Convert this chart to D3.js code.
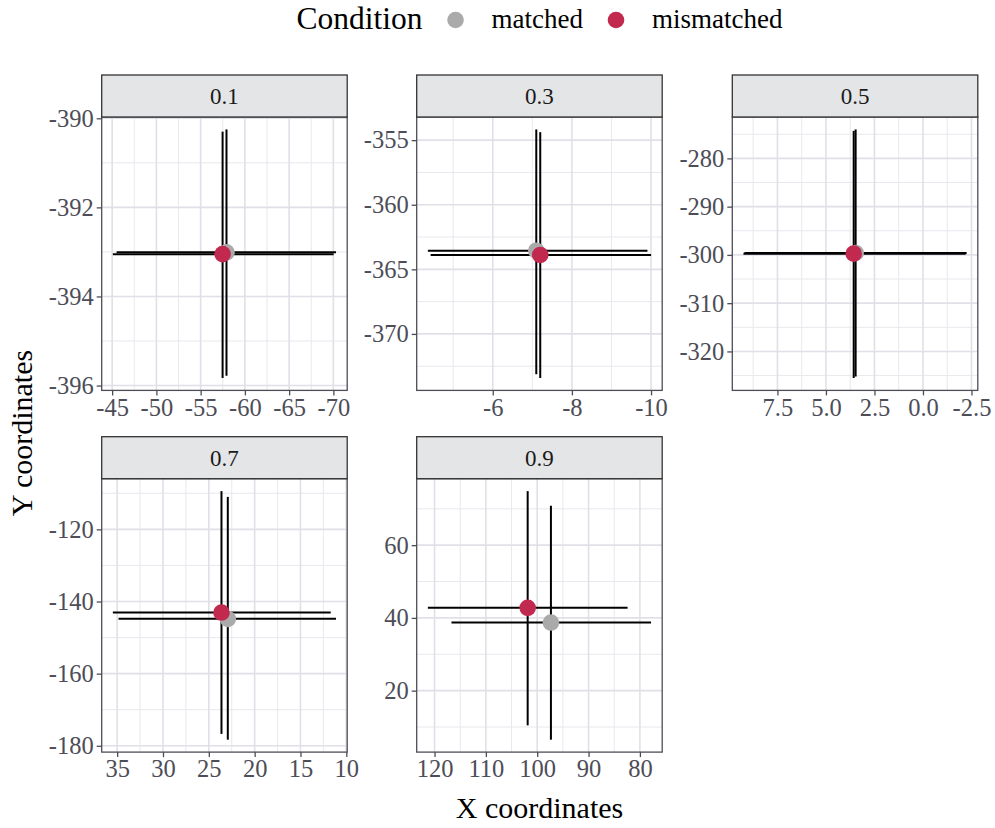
<!DOCTYPE html>
<html>
<head>
<meta charset="utf-8">
<script src="https://cdn.jsdelivr.net/npm/d3@7"></script>
<style>
  body { margin: 0; background: #fff; }
  svg { display: block; }
</style>
</head>
<body>
<svg id="chart" width="995" height="828"></svg>
<script>
// facets (noise level)
const conditions = ["0.1", "0.3", "0.5", "0.7", "0.9"]

// matched: centre point and error bar ends
const matchedX    = [-57.92, -7.10, 3.47, 22.93, 97.33]
const matchedY    = [-393.01, -363.56, -299.60, -144.80, 38.72]
const matchedXLo  = [-45.50, -4.36, 9.20, 34.85, 116.70]
const matchedXHi  = [-70.30, -9.91, -2.25, 11.12, 77.83]
const matchedYLo  = [-395.78, -373.12, -325.20, -178.30, 6.52]
const matchedYHi  = [-390.25, -354.17, -274.00, -111.00, 70.84]

// mismatched
const mismatchedX   = [-57.48, -7.20, 3.57, 23.62, 101.86]
const mismatchedY   = [-393.05, -363.89, -299.74, -143.06, 42.77]
const mismatchedXLo = [-45.08, -4.43, 9.25, 35.47, 121.30]
const mismatchedXHi = [-70.03, -10.00, -2.20, 11.70, 82.40]
const mismatchedYLo = [-395.83, -373.41, -325.50, -176.70, 10.45]
const mismatchedYHi = [-390.30, -354.38, -274.30, -109.40, 74.86]

// tick labels per facet
const xTickLabels = [
  ["-45", "-50", "-55", "-60", "-65", "-70"],
  ["-6", "-8", "-10"],
  ["7.5", "5.0", "2.5", "0.0", "-2.5"],
  ["35", "30", "25", "20", "15", "10"],
  ["120", "110", "100", "90", "80"]
]
const yTickLabels = [
  ["-390", "-392", "-394", "-396"],
  ["-355", "-360", "-365", "-370"],
  ["-280", "-290", "-300", "-310", "-320"],
  ["-120", "-140", "-160", "-180"],
  ["20", "40", "60"]
]

const groups = ["matched", "mismatched"]
const groupColors = ["#aaaaaa", "#c2294f"]

// layout
const FONT = "'Liberation Serif', 'Times New Roman', serif"
const COL_X = [101.7, 416.7, 732.3]
const ROW_Y = [75, 436.7]
const PANEL_W = 245.5
const STRIP_H = 42
const PANEL_H = 273.4
const AXIS_COLOR = "#4d4d57"
const GRID_MAJOR = "#e0e0e8"
const GRID_MINOR = "#e8e8ee"

const svg = d3.select("#chart")

function minors(ticks) {
  const t = ticks.slice().sort((a, b) => a - b)
  const step = t[1] - t[0]
  const out = []
  for (let v = t[0] - step / 2; v <= t[t.length - 1] + step; v += step) out.push(v)
  return out
}

conditions.forEach((cond, i) => {
  const col = i % 3, row = Math.floor(i / 3)
  const x0 = COL_X[col], top = ROW_Y[row], y0 = top + STRIP_H

  const xs = [matchedXLo[i], matchedXHi[i], mismatchedXLo[i], mismatchedXHi[i]]
  const ys = [matchedYLo[i], matchedYHi[i], mismatchedYLo[i], mismatchedYHi[i]]
  const [xmin, xmax] = d3.extent(xs), [ymin, ymax] = d3.extent(ys)
  const xpad = (xmax - xmin) * 0.05, ypad = (ymax - ymin) * 0.05

  // x is reversed
  const x = d3.scaleLinear().domain([xmax + xpad, xmin - xpad]).range([x0, x0 + PANEL_W])
  const y = d3.scaleLinear().domain([ymin - ypad, ymax + ypad]).range([y0 + PANEL_H, y0])

  const xt = xTickLabels[i].map(Number), yt = yTickLabels[i].map(Number)
  const inX = v => v >= xmin - xpad && v <= xmax + xpad
  const inY = v => v >= ymin - ypad && v <= ymax + ypad

  const g = svg.append("g")

  // grid
  const grid = g.append("g")
  minors(xt).filter(inX).forEach(v => grid.append("line")
    .attr("x1", x(v)).attr("x2", x(v)).attr("y1", y0).attr("y2", y0 + PANEL_H)
    .attr("stroke", GRID_MINOR).attr("stroke-width", 1))
  minors(yt).filter(inY).forEach(v => grid.append("line")
    .attr("x1", x0).attr("x2", x0 + PANEL_W).attr("y1", y(v)).attr("y2", y(v))
    .attr("stroke", GRID_MINOR).attr("stroke-width", 1))
  xt.forEach(v => grid.append("line")
    .attr("x1", x(v)).attr("x2", x(v)).attr("y1", y0).attr("y2", y0 + PANEL_H)
    .attr("stroke", GRID_MAJOR).attr("stroke-width", 1.6))
  yt.forEach(v => grid.append("line")
    .attr("x1", x0).attr("x2", x0 + PANEL_W).attr("y1", y(v)).attr("y2", y(v))
    .attr("stroke", GRID_MAJOR).attr("stroke-width", 1.6))

  // error bars
  const bars = [
    {cx: matchedX[i], cy: matchedY[i], xlo: matchedXLo[i], xhi: matchedXHi[i], ylo: matchedYLo[i], yhi: matchedYHi[i]},
    {cx: mismatchedX[i], cy: mismatchedY[i], xlo: mismatchedXLo[i], xhi: mismatchedXHi[i], ylo: mismatchedYLo[i], yhi: mismatchedYHi[i]}
  ]
  bars.forEach(b => {
    g.append("line").attr("x1", x(b.xlo)).attr("x2", x(b.xhi)).attr("y1", y(b.cy)).attr("y2", y(b.cy))
      .attr("stroke", "#000").attr("stroke-width", 2)
    g.append("line").attr("x1", x(b.cx)).attr("x2", x(b.cx)).attr("y1", y(b.ylo)).attr("y2", y(b.yhi))
      .attr("stroke", "#000").attr("stroke-width", 2)
  })
  bars.forEach((b, k) => {
    g.append("circle").attr("cx", x(b.cx)).attr("cy", y(b.cy)).attr("r", 8.3)
      .attr("fill", groupColors[k])
  })

  // panel border
  g.append("rect").attr("x", x0).attr("y", y0).attr("width", PANEL_W).attr("height", PANEL_H)
    .attr("fill", "none").attr("stroke", AXIS_COLOR).attr("stroke-width", 1.3)

  // strip
  g.append("rect").attr("x", x0).attr("y", top).attr("width", PANEL_W).attr("height", STRIP_H)
    .attr("fill", "#e4e5e7").attr("stroke", "#333333").attr("stroke-width", 1.3)
  g.append("text").attr("x", x0 + PANEL_W / 2).attr("y", top + STRIP_H / 2)
    .attr("dy", "0.35em").attr("text-anchor", "middle")
    .style("font-family", FONT).style("font-size", "23px").attr("fill", "#1a1a1a")
    .text(cond)

  // x axis
  const xAxis = d3.axisBottom(x).tickValues(xt).tickSize(5).tickPadding(3)
    .tickFormat((d, k) => xTickLabels[i][k])
  const gx = g.append("g").attr("transform", `translate(0,${y0 + PANEL_H})`).call(xAxis)
  // y axis
  const yAxis = d3.axisLeft(y).tickValues(yt).tickSize(5).tickPadding(3)
    .tickFormat((d, k) => yTickLabels[i][k])
  const gy = g.append("g").attr("transform", `translate(${x0},0)`).call(yAxis)
  ;[gx, gy].forEach(a => {
    a.select(".domain").remove()
    a.selectAll(".tick line").attr("stroke", AXIS_COLOR).attr("stroke-width", 1.3)
    a.selectAll(".tick text").style("font-family", FONT).style("font-size", "24.5px").attr("fill", AXIS_COLOR)
  })
})

// axis titles
svg.append("text").attr("x", 539.5).attr("y", 818).attr("text-anchor", "middle")
  .style("font-family", FONT).style("font-size", "30px").attr("fill", "#000")
  .text("X coordinates")
svg.append("text").attr("transform", "translate(32,433) rotate(-90)").attr("text-anchor", "middle")
  .style("font-family", FONT).style("font-size", "30px").attr("fill", "#000")
  .text("Y coordinates")

// legend
const legend = svg.append("g")
const lt = legend.append("text").attr("x", 0).attr("y", 29)
  .style("font-family", FONT).style("font-size", "31.5px").text("Condition")
let cursor = lt.node().getComputedTextLength()
groups.forEach((name, k) => {
  cursor += 33
  legend.append("circle").attr("cx", cursor).attr("cy", 20).attr("r", 8.3).attr("fill", groupColors[k])
  cursor += 36
  const t = legend.append("text").attr("x", cursor).attr("y", 28)
    .style("font-family", FONT).style("font-size", "27px").text(name)
  cursor += t.node().getComputedTextLength()
})
legend.attr("transform", `translate(${539.5 - cursor / 2},0)`)
</script>
</body>
</html>
